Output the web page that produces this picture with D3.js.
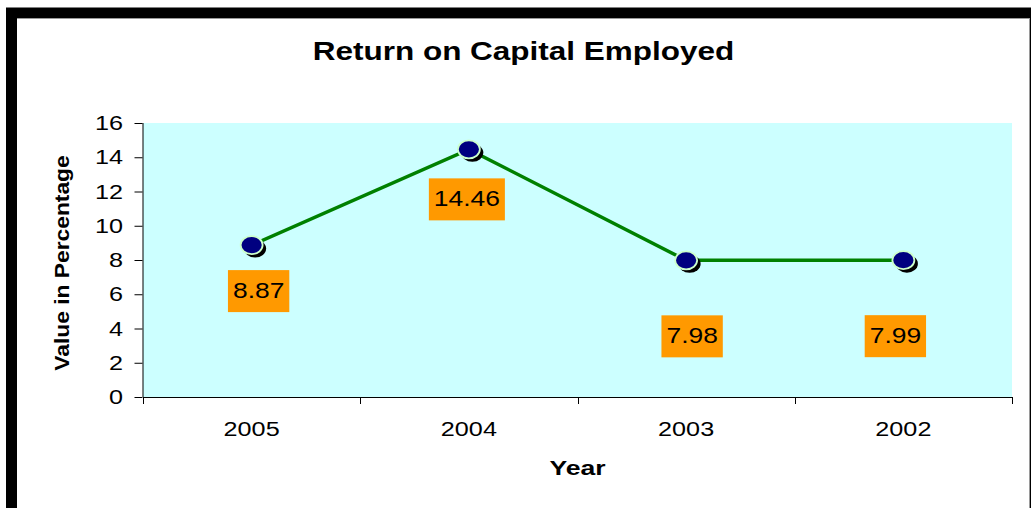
<!DOCTYPE html>
<html>
<head>
<meta charset="utf-8">
<script src="https://cdn.jsdelivr.net/npm/d3@7"></script>
<style>
  html, body { margin: 0; padding: 0; background: #ffffff; overflow: hidden; }
  svg { display: block; font-family: Arial, "Liberation Sans", sans-serif; }
</style>
</head>
<body>
<svg id="chart" width="1031" height="508"></svg>
<script>
// ---- data ----
const categories = ["2005", "2004", "2003", "2002"];
const values = [8.87, 14.46, 7.98, 7.99];
const valueLabels = ["8.87", "14.46", "7.98", "7.99"];
const yTicks = [0, 2, 4, 6, 8, 10, 12, 14, 16];
const titleText = "Return on Capital Employed";
const xTitle = "Year";
const yTitle = "Value in Percentage";

// ---- layout (not data) ----
const labelOffsets = [[7, 46], [-2, 50], [6, 76], [-8, 76]];
const plot = { left: 143, top: 123, right: 1012, bottom: 397 };
const SX = 1.22; // horizontal text stretch, as in the original rendering

const svg = d3.select("#chart");

// chart frame
svg.append("rect").attr("x", 11.5).attr("y", 13).attr("width", 1023).attr("height", 700)
  .attr("fill", "#ffffff").attr("stroke", "#000000").attr("stroke-width", 11);
svg.append("line").attr("x1", 17).attr("x2", 1029).attr("y1", 18.5).attr("y2", 18.5)
  .attr("stroke", "#9a9a9a").attr("stroke-width", 1);
svg.append("line").attr("x1", 1029.5).attr("x2", 1029.5).attr("y1", 18).attr("y2", 508)
  .attr("stroke", "#9a9a9a").attr("stroke-width", 1);

const x = d3.scaleBand().domain(categories).range([plot.left, plot.right]).padding(0);
const y = d3.scaleLinear().domain([0, 16]).range([plot.bottom, plot.top]);

// stretched text helper
function sText(parent, tx, ty, txt, opts) {
  const g = parent.append("g").attr("transform", `translate(${tx},${ty})${opts.rotate ? " rotate(" + opts.rotate + ")" : ""}`);
  return g.append("text")
    .attr("transform", `scale(${opts.sx || SX},1)`)
    .attr("text-anchor", opts.anchor || "middle")
    .attr("font-size", opts.size)
    .attr("font-weight", opts.bold ? "bold" : "normal")
    .attr("fill", "#000000")
    .text(txt);
}

// plot background
svg.append("rect").attr("x", plot.left).attr("y", plot.top)
  .attr("width", plot.right - plot.left).attr("height", plot.bottom - plot.top)
  .attr("fill", "#CCFFFF");

// y axis
const yAxis = svg.append("g").attr("transform", `translate(${plot.left},0)`)
  .call(d3.axisLeft(y).tickValues(yTicks).tickSize(8).tickFormat(""));
yAxis.select(".domain").attr("stroke", "#000").attr("d", `M0.5,${plot.top}V${plot.bottom}`);
yAxis.selectAll(".tick line").attr("stroke", "#000");
yAxis.attr("transform", `translate(${plot.left - 0.5},0)`);
yTicks.forEach(t => {
  sText(svg, 123, y(t) + 7, String(t), { size: 21, anchor: "end", sx: 1.2 });
});

// x axis
const xAxis = svg.append("g").attr("transform", `translate(0,${plot.bottom + 0.5})`)
  .call(d3.axisBottom(x).tickSize(0).tickFormat(""));
xAxis.select(".domain").attr("stroke", "#000").attr("d", `M${plot.left},0H${plot.right}`);
const bounds = categories.map(c => x(c)).concat([x(categories[categories.length - 1]) + x.bandwidth()]);
svg.selectAll(".xtick").data(bounds).enter().append("line")
  .attr("x1", d => Math.round(d) + 0.5).attr("x2", d => Math.round(d) + 0.5)
  .attr("y1", plot.bottom).attr("y2", plot.bottom + 7)
  .attr("stroke", "#000");
categories.forEach(c => {
  sText(svg, x(c) + x.bandwidth() / 2, 436, c, { size: 21, sx: 1.2 });
});

// titles
sText(svg, 523.5, 60, titleText, { size: 25, bold: true, sx: 1.26 });
sText(svg, 577.5, 475, xTitle, { size: 20, bold: true, sx: 1.33 });
sText(svg, 69, 263, yTitle, { size: 20, bold: true, sx: 1.14, rotate: -90 });

// line
const cx = (d, i) => x(categories[i]) + x.bandwidth() / 2;
const line = d3.line().x((d, i) => cx(d, i)).y(d => y(d));
svg.append("path").datum(values).attr("d", line)
  .attr("fill", "none").attr("stroke", "#008000").attr("stroke-width", 3.5);

// markers with shadow
svg.selectAll(".shadow").data(values).enter().append("ellipse")
  .attr("cx", (d, i) => cx(d, i) + 3.5).attr("cy", d => y(d) + 3.5)
  .attr("rx", 11).attr("ry", 9).attr("fill", "#000000");
svg.selectAll(".marker").data(values).enter().append("ellipse")
  .attr("cx", (d, i) => cx(d, i)).attr("cy", d => y(d))
  .attr("rx", 11).attr("ry", 9).attr("fill", "#000080")
  .attr("stroke", "#CCFFCC").attr("stroke-width", 1.8);

// data labels
values.forEach((v, i) => {
  const lx = cx(v, i) + labelOffsets[i][0];
  const ly = y(v) + labelOffsets[i][1];
  const g = svg.append("g");
  const rect = g.append("rect").attr("fill", "#FF9900");
  const t = sText(g, lx, ly + 7, valueLabels[i], { size: 22, sx: 1.2 });
  const w = t.node().getBBox().width * 1.2 + 10;
  rect.attr("x", lx - w / 2).attr("y", ly - 21).attr("width", w).attr("height", 42);
});
</script>
</body>
</html>
